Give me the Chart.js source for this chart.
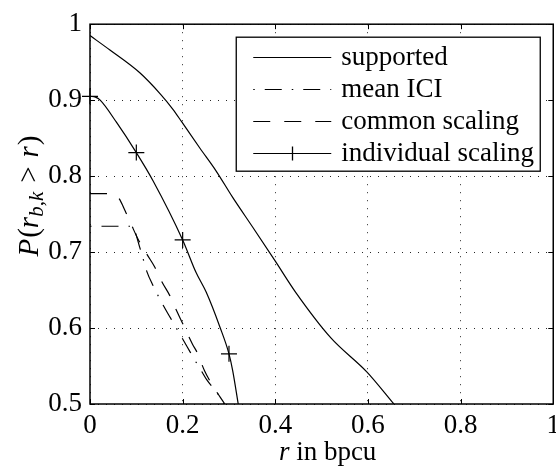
<!DOCTYPE html>
<html>
<head>
<meta charset="utf-8">
<script src="https://cdn.jsdelivr.net/npm/chart.js@4.4.1/dist/chart.umd.min.js"></script>
<style>
  html, body { margin: 0; padding: 0; background: #fff; overflow: hidden; }
  canvas { display: block; }
</style>
</head>
<body>
<!-- canvas is a bit wider than the window so the last x label runs off the edge -->
<canvas id="rateChart" width="566" height="472"></canvas>
<script>
// ---- data: rate r in bpcu vs. P(r_b,k > r) ----
const supportedR = [0, 0.043, 0.1075, 0.152, 0.179, 0.1985, 0.237, 0.272, 0.308, 0.351, 0.4, 0.444, 0.52, 0.598, 0.656];
const supportedP = [0.985, 0.966, 0.936, 0.908, 0.888, 0.871, 0.837, 0.807, 0.772, 0.733, 0.688, 0.647, 0.587, 0.542, 0.5];

const meanIciR = [0, 0.09, 0.109, 0.123, 0.136, 0.158, 0.174, 0.21, 0.228, 0.24, 0.253, 0.274, 0.289];
const meanIciP = [0.734, 0.734, 0.703, 0.674, 0.656, 0.63, 0.613, 0.575, 0.556, 0.544, 0.531, 0.515, 0.5];

const commonR = [0, 0.045, 0.062, 0.076, 0.09, 0.103, 0.123, 0.14, 0.156, 0.172, 0.186, 0.2, 0.221, 0.232, 0.247, 0.262, 0.291];
const commonP = [0.777, 0.777, 0.771, 0.754, 0.735, 0.718, 0.697, 0.68, 0.66, 0.643, 0.624, 0.606, 0.579, 0.567, 0.544, 0.527, 0.5];

const individualR = [0, 0.012, 0.022, 0.057, 0.1, 0.136, 0.2, 0.229, 0.251, 0.28, 0.3, 0.308, 0.32];
const individualP = [0.905, 0.904, 0.9, 0.871, 0.831, 0.794, 0.716, 0.673, 0.647, 0.602, 0.566, 0.544, 0.5];
const individualMarkR = [0, 0.1, 0.2, 0.3];

const seriesLabels = ['supported', 'mean ICI', 'common scaling', 'individual scaling'];
const xTickValues = [0, 0.2, 0.4, 0.6, 0.8, 1];
const yTickValues = [0.5, 0.6, 0.7, 0.8, 0.9, 1];

// ---- styling ----
const SERIF = "'Liberation Serif', 'DejaVu Serif', serif";
const FONT_SIZE = 27;
const TICK_LEN = 5;

function toPoints(xs, ys) {
  return xs.map((x, i) => ({ x, y: ys[i] }));
}

function baseLine(label, data) {
  return {
    label,
    data,
    borderColor: '#000',
    backgroundColor: '#000',
    borderWidth: 1.2,
    pointRadius: 0,
    cubicInterpolationMode: 'monotone',
    fill: false
  };
}

// inward tick marks on all four sides plus the closed box
const frameTicks = {
  id: 'frameTicks',
  afterDatasetsDraw(chart) {
    const { ctx, chartArea: a, scales: { x, y } } = chart;
    ctx.save();
    ctx.strokeStyle = '#000';
    ctx.lineWidth = 1;
    ctx.beginPath();
    x.ticks.forEach(t => {
      const px = Math.round(x.getPixelForValue(t.value)) + 0.5;
      ctx.moveTo(px, a.bottom); ctx.lineTo(px, a.bottom - TICK_LEN);
      ctx.moveTo(px, a.top); ctx.lineTo(px, a.top + TICK_LEN);
    });
    y.ticks.forEach(t => {
      const py = Math.round(y.getPixelForValue(t.value)) + 0.5;
      ctx.moveTo(a.left, py); ctx.lineTo(a.left + TICK_LEN, py);
      ctx.moveTo(a.right, py); ctx.lineTo(a.right - TICK_LEN, py);
    });
    ctx.stroke();
    ctx.lineWidth = 1.5;
    ctx.strokeRect(a.left, a.top, a.width, a.height);
    ctx.restore();
  }
};

// boxed legend in the upper right corner, drawn from the datasets
const boxLegend = {
  id: 'boxLegend',
  afterDraw(chart) {
    const { ctx, chartArea: a } = chart;
    const w = 304, h = 134;
    const left = a.right - 13 - w, top = a.top + 13;
    ctx.save();
    ctx.fillStyle = '#fff';
    ctx.fillRect(left, top, w, h);
    ctx.strokeStyle = '#000';
    ctx.lineWidth = 1.3;
    ctx.strokeRect(left, top, w, h);

    ctx.font = `${FONT_SIZE}px ${SERIF}`;
    ctx.textBaseline = 'middle';
    ctx.fillStyle = '#000';
    chart.data.datasets.forEach((ds, i) => {
      const cy = Math.round(top + 20 + i * 32) + 0.5;
      const x0 = left + 17, x1 = x0 + 78;
      ctx.save();
      ctx.lineWidth = ds.borderWidth;
      ctx.setLineDash(ds.borderDash || []);
      ctx.lineDashOffset = ds.borderDashOffset || 0;
      ctx.beginPath();
      ctx.moveTo(x0, cy); ctx.lineTo(x1, cy);
      ctx.stroke();
      ctx.restore();
      if (ds.pointStyle === 'cross') {
        const cx = Math.round((x0 + x1) / 2) + 0.5;
        ctx.beginPath();
        ctx.moveTo(cx, cy - 7); ctx.lineTo(cx, cy + 7);
        ctx.stroke();
      }
      ctx.fillText(ds.label, x1 + 10, cy);
    });
    ctx.restore();
  }
};

// draws a sequence of text runs with their own fonts and offsets
function drawRuns(ctx, runs, cx, baseY) {
  let total = 0;
  runs.forEach(r => { ctx.font = r.font; total += ctx.measureText(r.text).width + (r.gap || 0); });
  let x = cx - total / 2;
  runs.forEach(r => {
    ctx.font = r.font;
    ctx.fillText(r.text, x, baseY + (r.dy || 0));
    x += ctx.measureText(r.text).width + (r.gap || 0);
  });
}

const axisTitles = {
  id: 'axisTitles',
  afterDraw(chart) {
    const { ctx, chartArea: a } = chart;
    const it = `italic ${FONT_SIZE}px ${SERIF}`;
    const up = `${FONT_SIZE}px ${SERIF}`;
    ctx.save();
    ctx.fillStyle = '#000';
    ctx.textBaseline = 'alphabetic';
    ctx.textAlign = 'left';
    // x axis: "r in bpcu"
    drawRuns(ctx, [
      { text: 'r', font: it },
      { text: ' in bpcu', font: up }
    ], (a.left + a.right) / 2 + 6, 460);

    // y axis: "P(r_{b,k} > r)"
    const yit = `italic 29px ${SERIF}`;
    const yup = `29px ${SERIF}`;
    const sub = `italic 21px ${SERIF}`;
    const subUp = `21px ${SERIF}`;
    ctx.translate(38, 196);
    ctx.rotate(-Math.PI / 2);
    drawRuns(ctx, [
      { text: 'P', font: yit, gap: 1 },
      { text: '(', font: yup },
      { text: 'r', font: yit },
      { text: 'b', font: sub, dy: 5 },
      { text: ',', font: subUp, dy: 5 },
      { text: 'k', font: sub, dy: 5, gap: 9 },
      { text: '>', font: yup, gap: 9 },
      { text: 'r', font: yit, gap: 1 },
      { text: ')', font: yup }
    ], 0, 0);
    ctx.restore();
  }
};

const supported = baseLine(seriesLabels[0], toPoints(supportedR, supportedP));

const meanIci = baseLine(seriesLabels[1], toPoints(meanIciR, meanIciP));
meanIci.borderDash = [17, 10, 1.5, 10];
meanIci.borderDashOffset = 27;

const common = baseLine(seriesLabels[2], toPoints(commonR, commonP));
common.borderDash = [17, 14];

const individual = baseLine(seriesLabels[3], toPoints(individualR, individualP));
individual.pointStyle = 'cross';
individual.pointBorderWidth = 1.2;
individual.pointRadius = (c) => (c.raw && individualMarkR.includes(c.raw.x) ? 8 : 0);
individual.clip = false;

const tickFont = { family: SERIF, size: FONT_SIZE };

new Chart(document.getElementById('rateChart'), {
  type: 'line',
  data: { datasets: [supported, meanIci, common, individual] },
  options: {
    responsive: false,
    animation: false,
    devicePixelRatio: 1,
    layout: { padding: { top: 17, right: 11, left: 0, bottom: 0 } },
    plugins: {
      legend: { display: false },
      tooltip: { enabled: false }
    },
    scales: {
      x: {
        type: 'linear',
        min: 0, max: 1,
        afterBuildTicks: (s) => { s.ticks = xTickValues.map(v => ({ value: v })); },
        afterFit: (s) => { s.height = 68; },
        ticks: {
          color: '#000', font: tickFont, padding: 6,
          maxRotation: 0, autoSkip: false,
          callback: (v) => String(Math.round(v * 10) / 10)
        },
        grid: { color: 'rgba(0,0,0,0.85)', lineWidth: 1, drawTicks: false },
        border: { display: false, dash: [1, 7] }
      },
      y: {
        type: 'linear',
        min: 0.5, max: 1,
        afterBuildTicks: (s) => { s.ticks = yTickValues.map(v => ({ value: v })); },
        afterFit: (s) => { s.width = 90; },
        ticks: {
          color: '#000', font: tickFont, padding: 8,
          autoSkip: false,
          callback: (v) => String(Math.round(v * 10) / 10)
        },
        grid: { color: 'rgba(0,0,0,0.85)', lineWidth: 1, drawTicks: false },
        border: { display: false, dash: [1, 7] }
      }
    }
  },
  plugins: [frameTicks, boxLegend, axisTitles]
});
</script>
</body>
</html>
